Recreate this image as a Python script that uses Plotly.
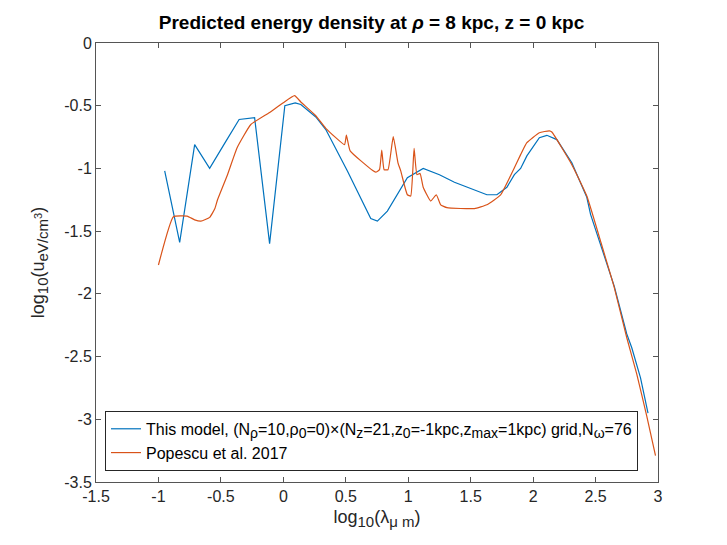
import plotly.graph_objs as go

# model curve (blue)
model_x = [-0.95, -0.83, -0.71, -0.59, -0.47, -0.354, -0.23, -0.11, 0.012, 0.095, 0.14, 0.26,
           0.34, 0.513, 0.70, 0.753, 0.833, 0.993, 1.12, 1.25, 1.37, 1.53, 1.63, 1.71,
           1.79, 1.85, 1.90, 1.95, 2.05, 2.11, 2.19, 2.31, 2.43, 2.46, 2.54, 2.65,
           2.75, 2.79, 2.86, 2.92]
model_y = [-1.02, -1.59, -0.81, -1.00, -0.80, -0.61, -0.596, -1.60, -0.50, -0.478, -0.49, -0.59,
           -0.69, -1.02, -1.40, -1.42, -1.34, -1.074, -1.0, -1.05, -1.11, -1.175, -1.21, -1.21,
           -1.15, -1.05, -1.0, -0.90, -0.755, -0.736, -0.77, -0.955, -1.23, -1.366, -1.605, -1.94,
           -2.32, -2.43, -2.67, -2.95]

# Popescu et al. 2017 (orange)
pop_x = [-1.0, -0.88, -0.77, -0.71, -0.66, -0.59, -0.548, -0.527, -0.447, -0.37, -0.26, -0.113,
         0.0, 0.09, 0.14, 0.26, 0.34, 0.49, 0.505, 0.535, 0.713, 0.74, 0.77, 0.788, 0.807,
         0.838, 0.88, 0.918, 0.94, 0.993, 1.02, 1.047, 1.07, 1.095, 1.12, 1.18, 1.225, 1.26,
         1.31, 1.53, 1.63, 1.74, 1.85, 1.90, 1.95, 2.05, 2.13, 2.15, 2.31, 2.43, 2.54, 2.65,
         2.75, 2.83, 2.91, 2.98]
pop_y = [-1.77, -1.385, -1.38, -1.41, -1.42, -1.39, -1.32, -1.25, -1.05, -0.835, -0.65, -0.556,
         -0.476, -0.42, -0.47, -0.58, -0.68, -0.81, -0.735, -0.86, -1.015, -1.03, -1.01, -0.853, -1.01,
         -1.01, -0.747, -0.955, -1.02, -1.21, -1.22, -0.84, -1.05, -1.04, -1.15, -1.26, -1.21, -1.29,
         -1.313, -1.32, -1.29, -1.21, -0.995, -0.89, -0.795, -0.715, -0.70, -0.71, -0.97, -1.22, -1.58, -1.95,
         -2.35, -2.64, -2.975, -3.29]

x_ticks = [-1.5, -1, -0.5, 0, 0.5, 1, 1.5, 2, 2.5, 3]
y_ticks = [0, -0.5, -1, -1.5, -2, -2.5, -3, -3.5]


def sub(s, px):
    # matlab draws sub/superscripts nearly full size, plotly shrinks them to 70%
    return f'<sub><span style="font-size:{px}px">{s}</span></sub>'


def sup(s, px):
    return f'<sup><span style="font-size:{px}px">{s}</span></sup>'


model_name = ("This model, (N" + sub("ρ", 14) + "=10,ρ" + sub("0", 14) + "=0)×(N" + sub("z", 14)
              + "=21,z" + sub("0", 14) + "=-1kpc,z" + sub("max", 14) + "=1kpc) grid,N"
              + sub("ω", 14) + "=76")
x_title = "log" + sub("10", 15) + "(λ" + sub("μ m", 15) + ")"
y_title = "log" + sub("10", 15) + "(u" + sub("eV/cm" + sup("3", 11), 15) + ")"

fig = go.Figure()
fig.add_trace(go.Scatter(x=model_x, y=model_y, mode='lines', name=model_name,
                         line=dict(color='#0072BD', width=1.2)))
fig.add_trace(go.Scatter(x=pop_x, y=pop_y, mode='lines', name='Popescu et al. 2017',
                         line=dict(color='#D95319', width=1.2, shape='spline', smoothing=0.4)))

axis_style = dict(showgrid=False, zeroline=False, showline=True, linecolor='#555555',
                  linewidth=1, mirror='ticks', ticks='inside', ticklen=5,
                  tickcolor='#555555', tickfont=dict(size=16, color='#262626'))

fig.update_xaxes(range=[-1.5, 3], tickvals=x_ticks, ticktext=[f"{v:g}" for v in x_ticks],
                 title=dict(text=x_title, font=dict(size=18, color='#262626'), standoff=6),
                 **axis_style)
fig.update_yaxes(range=[-3.5, 0], tickvals=y_ticks, ticktext=[f"{v:g}" for v in y_ticks],
                 title=dict(text=y_title, font=dict(size=18, color='#262626'), standoff=14),
                 **axis_style)

fig.update_layout(
    width=727, height=545,
    margin=dict(l=88, r=77, t=35, b=71),
    paper_bgcolor='white', plot_bgcolor='white',
    font=dict(family='Liberation Sans, Arial, sans-serif', color='#262626'),
    title=dict(text="<b>Predicted energy density at <i>ρ</i> = 8 kpc, z = 0 kpc</b>",
               x=0.5, xanchor='center', y=0.985, yanchor='top',
               font=dict(size=19, color='black')),
    legend=dict(x=0.016, y=0.162, xanchor='left', yanchor='top',
                bgcolor='white', bordercolor='#262626', borderwidth=1,
                font=dict(size=16, color='black'), tracegroupgap=0),
    showlegend=True,
)

fig.write_html("out.html")
